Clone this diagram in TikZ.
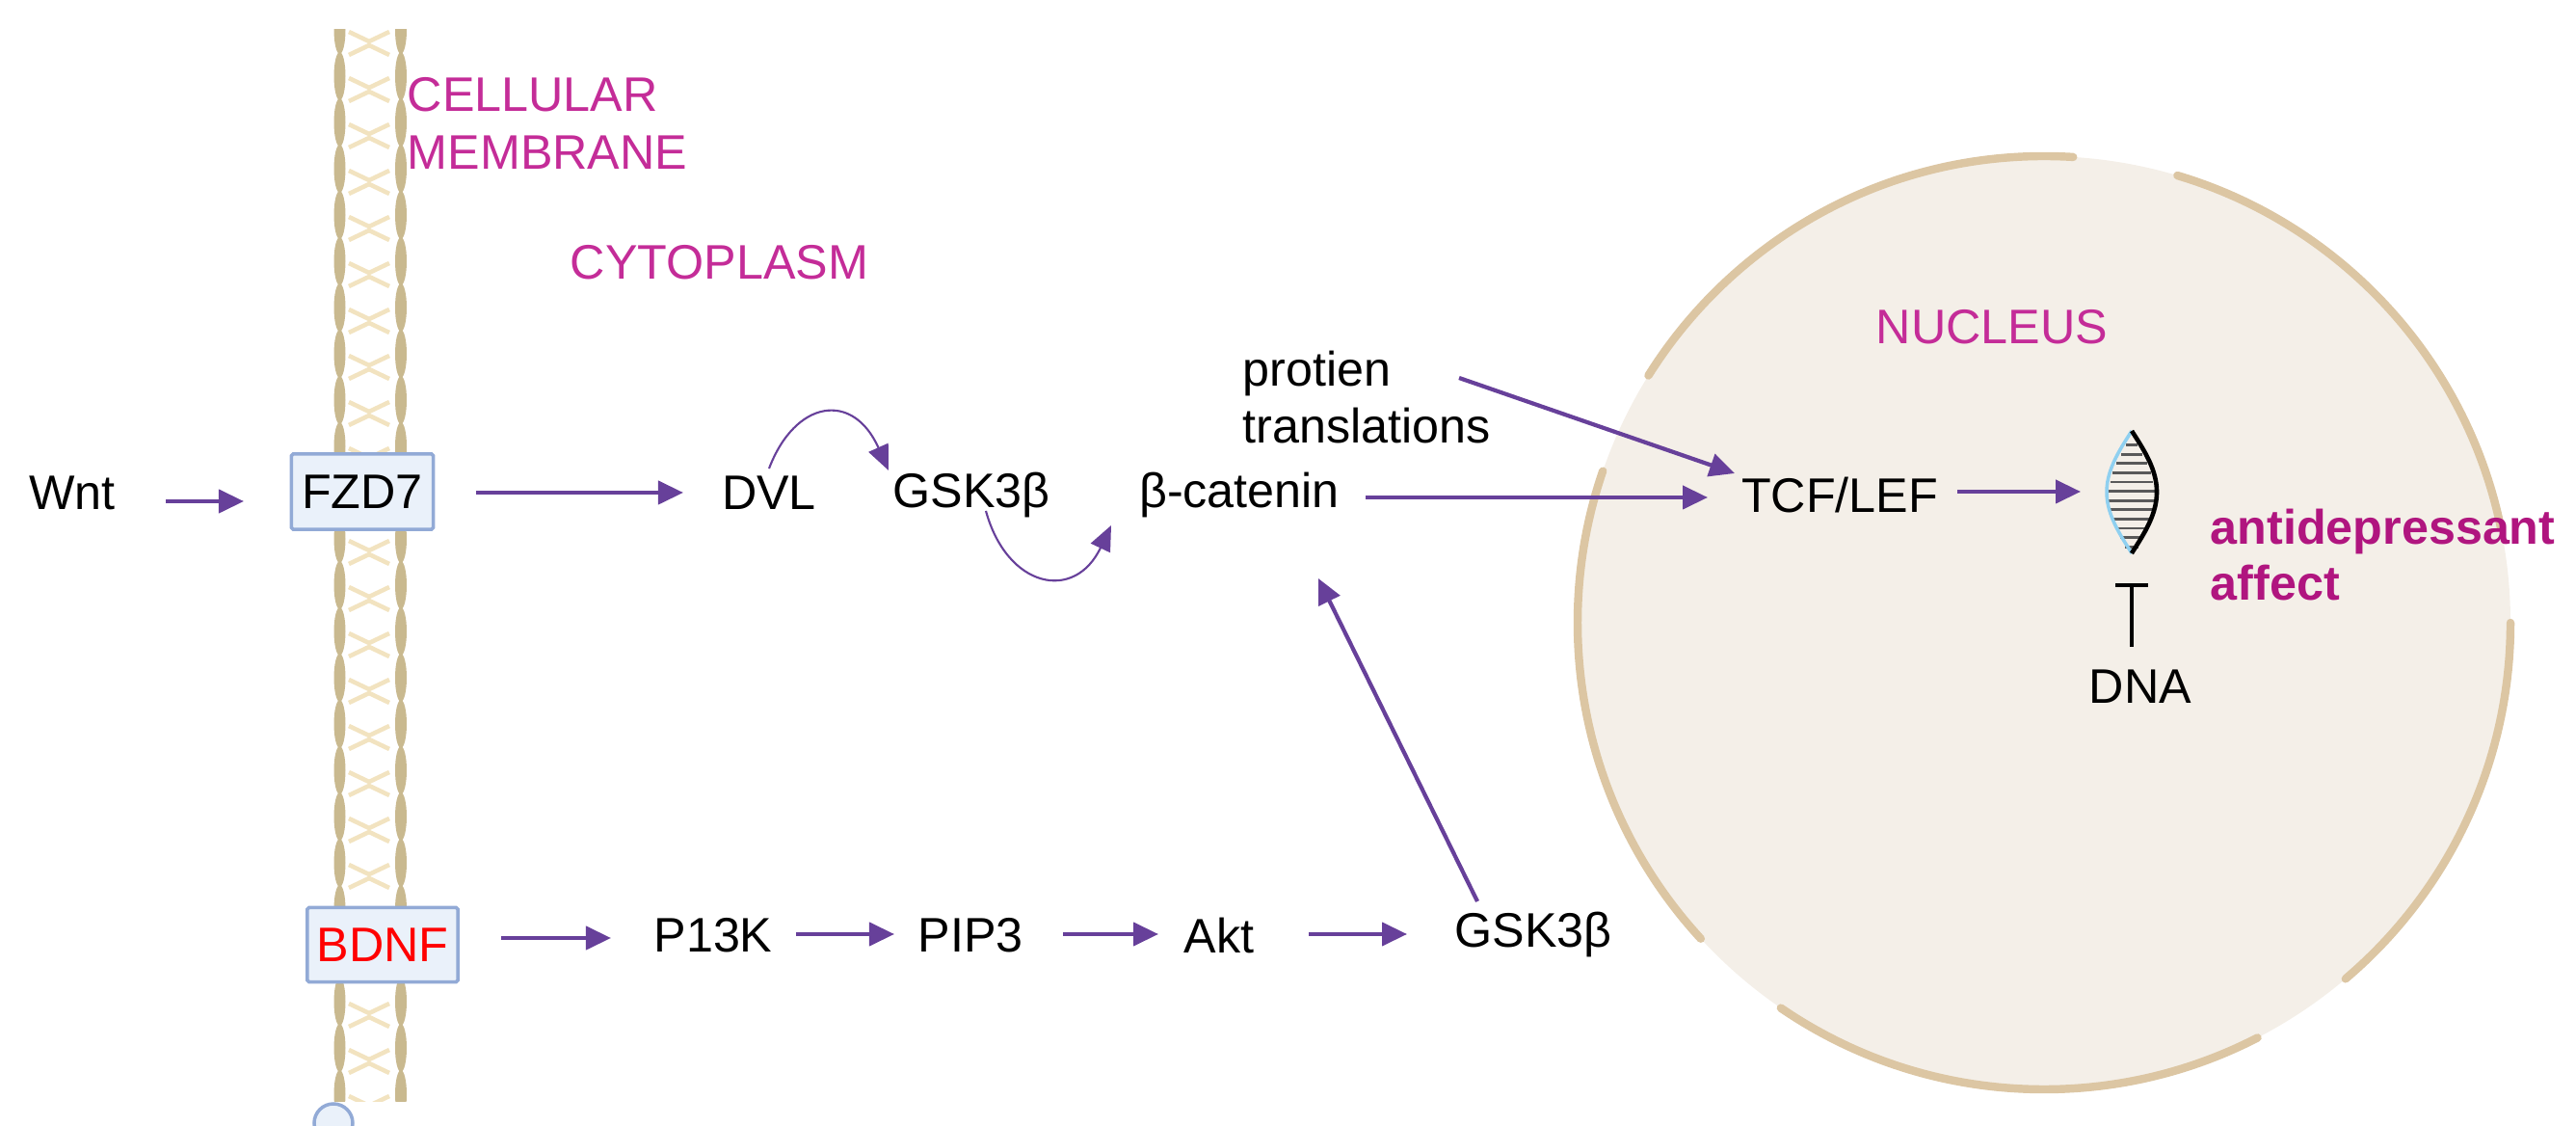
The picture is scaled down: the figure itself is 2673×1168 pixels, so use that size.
\documentclass[tikz,border=0pt]{standalone}
\usepackage{fontspec}
\setmainfont{Liberation Sans}
\usetikzlibrary{arrows.meta}
\definecolor{arr}{HTML}{67409A}
\definecolor{mag}{HTML}{C42C98}
\definecolor{mag2}{HTML}{B0157F}
\definecolor{bead}{HTML}{C9B98F}
\definecolor{chev}{HTML}{F2E3C0}
\definecolor{nucfill}{HTML}{F4EFE8}
\definecolor{nucdash}{HTML}{DCC6A3}
\definecolor{boxfill}{HTML}{EAF1FA}
\definecolor{boxdraw}{HTML}{92AAD6}
\definecolor{helixblue}{HTML}{8FD0F0}
\tikzset{
  lbl/.style={font=\fontsize{14.3}{16}\selectfont, text=black, inner sep=2pt},
  maglbl/.style={font=\fontsize{14.3}{17}\selectfont, text=mag, align=left, inner sep=0pt},
  recbox/.style={draw=boxdraw, fill=boxfill, line width=1pt, rounded corners=0.5pt},
  flow/.style={draw=arr, line width=1.2pt, -{Triangle[length=0.26cm,width=0.24cm]}},
  thinflow/.style={draw=arr, line width=0.6pt, -{Triangle[length=0.26cm,width=0.22cm]}},
}
\begin{document}
\begin{tikzpicture}[x=0.01cm,y=-0.01cm]
\useasboundingbox (0,0) rectangle (2673,1168);
% nucleus
\fill[nucfill] (2121,646) circle (484);
\draw[nucdash, line width=2.4pt, line cap=round, dash pattern=on 5.2cm off 1.1cm, dash phase=1cm] (2121,646) circle (484);
% membrane
\begin{scope}
\clip (330,31) rectangle (440,1142);
\foreach \y in {31,79,...,1160}{
  \fill[bead] (352.5,\y) ellipse (6 and 25);
  \fill[bead] (416,\y) ellipse (6 and 25);
  \draw[chev, line width=1.3pt] (362,\y+2) -- (383,\y+12) -- (404,\y+2);
  \draw[chev, line width=1.3pt] (362,\y+26) -- (383,\y+16) -- (404,\y+26);
}
\end{scope}
\begin{scope}
\clip (300,1100) rectangle (400,1168);
\draw[boxdraw, fill=boxfill, line width=1pt] (346,1165) circle (20);
\end{scope}
% labels
\node[maglbl, anchor=west] (mem) at (422,128) {CELLULAR\\MEMBRANE};
\node[maglbl, anchor=west] (cyto) at (591,272) {CYTOPLASM};
\node[maglbl] (nuc) at (2067,339) {NUCLEUS};
\node[font=\bfseries\fontsize{14.3}{16.5}\selectfont, text=mag2, align=left, anchor=west, inner sep=0pt] (anti) at (2293,576) {antidepressant\\affect};
% nodes
\node[lbl] (wnt) at (75,511) {Wnt};
\node[recbox, lbl, minimum width=1.47cm, minimum height=0.78cm] (fzd) at (376,510) {FZD7};
\node[lbl] (dvl) at (798,511) {DVL};
\node[lbl] (gsk1) at (1008,514) {GSK3β};
\node[lbl] (bcat) at (1286,514) {β-catenin};
\node[lbl, align=left, anchor=west, font=\fontsize{14.3}{17}\selectfont] (prot) at (1282,412) {protien\\translations};
\node[lbl] (tcf) at (1909,514) {TCF/LEF};
\node[lbl] (dnat) at (2221,712) {DNA};
\node[recbox, lbl, text=red, minimum width=1.56cm, minimum height=0.77cm] (bdnf) at (397,980) {BDNF};
\node[lbl] (p13k) at (740,970) {P13K};
\node[lbl] (pip3) at (1007,970) {PIP3};
\node[lbl] (akt) at (1265,970) {Akt};
\node[lbl] (gsk2) at (1591,970) {GSK3β};
\coordinate (dna) at (2212,510);
% DNA helix
\foreach \t in {0,...,12}{
  \pgfmathsetmacro{\yy}{452+\t*9.6}
  \pgfmathsetmacro{\xa}{2212-24*sin(\t*9.6*1.42)}
  \pgfmathsetmacro{\xb}{2212+24*sin(\t*9.6*1.42)}
  \draw[gray!70!black, line width=0.8pt] (\xa,\yy) -- (\xb,\yy);
}
\draw[helixblue, line width=1pt, domain=447:574, samples=50, variable=\u] plot ({2212-26*sin((\u-447)*1.42)},\u);
\draw[black, line width=1.3pt, domain=447:574, samples=50, variable=\u] plot ({2212+26*sin((\u-447)*1.42)},\u);
% T symbol
\draw[black, line width=1.2pt] (2195,607) -- (2229,607);
\draw[black, line width=1.2pt] (2212,607) -- (2212,671);
% arrows
\draw[flow] (172,520) -- (253,520);
\draw[flow] (494,511) -- (709,511);
\draw[thinflow] (798,486) .. controls (825,415) and (885,405) .. (922,488);
\draw[thinflow] (1023,530) .. controls (1045,610) and (1115,625) .. (1153,545);
\draw[flow] (1417,516) -- (1772,516);
\draw[flow] (1514,392) -- (1800,491);
\draw[flow] (2031,510) -- (2159,510);
\draw[flow] (520,973) -- (634,973);
\draw[flow] (826,969) -- (928,969);
\draw[flow] (1103,969) -- (1202,969);
\draw[flow] (1358,969) -- (1460,969);
\draw[flow] (1533,935) -- (1368,600);
\end{tikzpicture}
\end{document}
